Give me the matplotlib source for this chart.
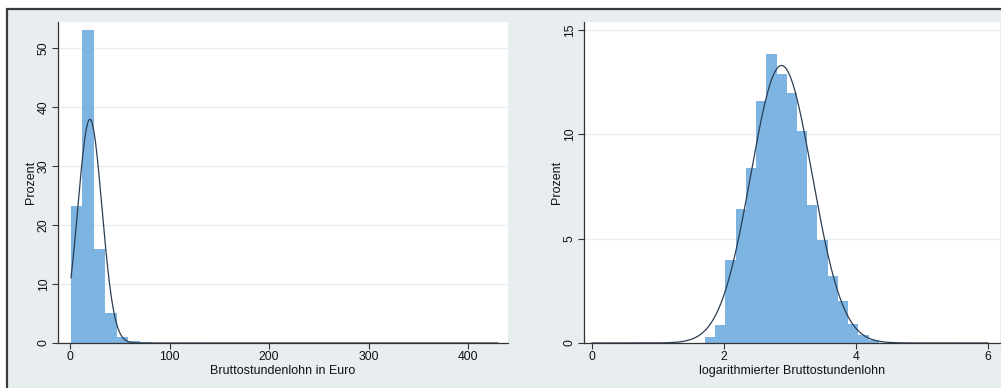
import numpy as np
import matplotlib.pyplot as plt
from matplotlib.patches import Rectangle

plt.rcParams['font.family'] = ['Liberation Sans', 'DejaVu Sans']

# Bruttostundenlohn in Euro: histogram (percent per bin) and fitted normal
lohn_start = 1.0
lohn_width = 11.5
lohn_pct = [23.3, 53.0, 16.0, 5.1, 1.0, 0.4, 0.1]
lohn_mean, lohn_sd = 20.0, 12.1
lohn_range = (1.0, 430.0)

# logarithmierter Bruttostundenlohn
log_start = 1.71
log_width = 0.155
log_pct = [0.3, 0.85, 4.0, 6.4, 8.4, 11.6, 13.85, 12.9, 12.0, 10.15,
           6.6, 4.95, 3.2, 2.0, 0.9, 0.4, 0.15]
log_mean, log_sd = 2.87, 0.465
log_range = (0.0, 6.0)

bar_color = '#7db4e1'
line_color = '#2b3d52'
bg_color = '#e8eef0'
grid_color = '#e6eef0'
axis_color = '#333333'

W, H = 1001, 388
fig = plt.figure(figsize=(W / 100, H / 100), dpi=100)
fig.patch.set_facecolor('white')

# graph region with frame on the left and top
fig.patches.append(Rectangle((7 / W, -0.05), 1.1, (H - 9) / H + 0.05,
                             transform=fig.transFigure, facecolor=bg_color,
                             edgecolor='#3a3a3a', lw=1.6, zorder=-5))


def panel(rect, start, width, pct, mean, sd, xr, xlim, ylim,
          xticks, yticks, xlabel):
    ax = fig.add_axes([rect[0] / W, (H - rect[3]) / H,
                       (rect[2] - rect[0]) / W, (rect[3] - rect[1]) / H])
    ax.set_facecolor('white')
    lefts = [start + i * width for i in range(len(pct))]
    ax.bar(lefts, pct, width=width, align='edge', color=bar_color,
           edgecolor='none', zorder=2)
    xs = np.linspace(xr[0], xr[1], 800)
    dens = 100 * width * np.exp(-0.5 * ((xs - mean) / sd) ** 2) / (sd * np.sqrt(2 * np.pi))
    ax.plot(xs, dens, color=line_color, lw=0.9, zorder=3)
    ax.set_xlim(*xlim)
    ax.set_ylim(*ylim)
    for y in yticks[1:]:
        ax.axhline(y, color=grid_color, lw=1.0, zorder=1)
    ax.set_xticks(xticks)
    ax.set_yticks(yticks)
    ax.set_yticklabels([str(t) for t in yticks], rotation=90, va='center')
    for s in ('top', 'right'):
        ax.spines[s].set_visible(False)
    for s in ('left', 'bottom'):
        ax.spines[s].set_color(axis_color)
        ax.spines[s].set_linewidth(0.9)
    ax.tick_params(direction='out', length=4, width=0.8, color=axis_color,
                   labelsize=8.8, labelcolor='#111111')
    ax.tick_params(axis='x', pad=2)
    ax.tick_params(axis='y', pad=2)
    ax.set_xlabel(xlabel, fontsize=9, labelpad=1, color='#111111')
    ax.set_ylabel('Prozent', fontsize=9, labelpad=0.5, color='#111111')
    return ax


panel((58, 22, 508, 343), lohn_start, lohn_width, lohn_pct, lohn_mean,
      lohn_sd, lohn_range, (-12.06, 440.2), (0, 54.4),
      [0, 100, 200, 300, 400], [0, 10, 20, 30, 40, 50],
      'Bruttostundenlohn in Euro')

panel((584, 22, 1000, 343), log_start, log_width, log_pct, log_mean,
      log_sd, log_range, (-0.121, 6.18), (0, 15.38),
      [0, 2, 4, 6], [0, 5, 10, 15],
      'logarithmierter Bruttostundenlohn')

fig.savefig('out.png', dpi=100)
